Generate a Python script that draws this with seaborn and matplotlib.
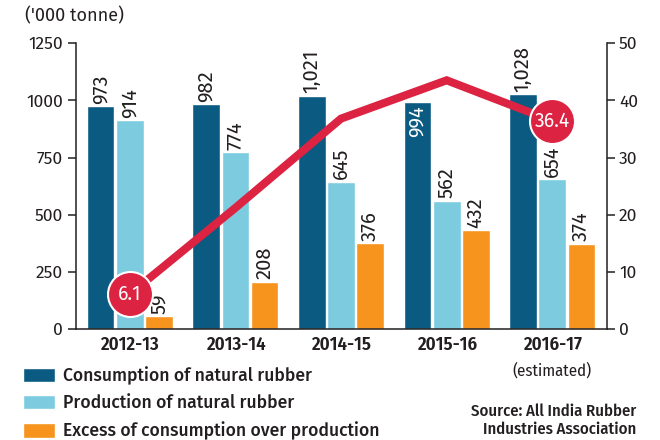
import numpy as np
import pandas as pd
import matplotlib
matplotlib.use("Agg")
import matplotlib.pyplot as plt
import seaborn as sns
from matplotlib.patches import Patch
from matplotlib.transforms import blended_transform_factory

# data
years = ["2012-13", "2013-14", "2014-15", "2015-16", "2016-17"]
consumption = [973, 982, 1021, 994, 1028]
production = [914, 774, 645, 562, 654]
excess = [59, 208, 376, 432, 374]
excess_pct = [6.1, 21.2, 36.8, 43.5, 36.4]
series = ["Consumption of natural rubber",
          "Production of natural rubber",
          "Excess of consumption over production"]

colors = ["#0b5a82", "#7ccbdf", "#f7941d"]
red = "#dc2342"
ink = "#231f20"
cond = ["Fira Sans Condensed", "DejaVu Sans"]

df = pd.DataFrame({
    "year": years * 3,
    "series": np.repeat(series, len(years)),
    "value": consumption + production + excess,
})

sns.set_style("white")
plt.rcParams["font.family"] = ["Fira Sans", "DejaVu Sans"]
plt.rcParams["text.color"] = ink

fig = plt.figure(figsize=(6.6, 4.4), dpi=100)
ax = fig.add_axes([0.115, 0.252, 0.805, 0.65])

sns.barplot(data=df, x="year", y="value", hue="series", palette=colors,
            width=0.83, gap=0.05, saturation=1, legend=False, ax=ax)

ax.set_xlim(-0.51, 4.52)
ax.set_ylim(0, 1250)
ax.set_yticks([0, 250, 500, 750, 1000, 1250])
ax.set_xlabel("")
ax.set_ylabel("")
ax.tick_params(axis="y", direction="out", length=5.5, width=1.1, labelsize=12.5,
               pad=4, left=True, colors=ink)
ax.tick_params(axis="x", length=0, pad=5, colors=ink)
for lab in ax.get_xticklabels():
    lab.set_fontfamily(cond)
    lab.set_fontweight("semibold")
    lab.set_fontsize(13.5)
for s in ["top", "right"]:
    ax.spines[s].set_visible(False)
for s in ["left", "bottom"]:
    ax.spines[s].set_color(ink)
    ax.spines[s].set_linewidth(1.1)

# value labels on bars (994 sits inside its bar, under the line)
inside = {(0, 3)}
for i, cont in enumerate(ax.containers):
    for j, bar in enumerate(cont):
        v = bar.get_height()
        x = bar.get_x() + bar.get_width() / 2
        txt = f"{int(v):,}"
        if (i, j) in inside:
            ax.annotate(txt, (x, v), xytext=(0, -3), textcoords="offset points",
                        rotation=90, ha="center", va="top", fontsize=14.5, color="white")
        else:
            ax.annotate(txt, (x, v), xytext=(0, 1.5), textcoords="offset points",
                        rotation=90, ha="center", va="bottom", fontsize=14.5)

# percentage line on right axis
ax2 = ax.twinx()
ax2.plot(range(len(years)), excess_pct, color=red, lw=5.8, solid_joinstyle="miter", zorder=3)
ax2.set_ylim(0, 50)
ax2.set_yticks([0, 10, 20, 30, 40, 50])
ax2.tick_params(axis="y", direction="out", length=5.5, width=1.1, labelsize=12.5,
                pad=3, right=True, colors=ink)
for s in ["top", "left", "bottom"]:
    ax2.spines[s].set_visible(False)
ax2.spines["right"].set_color(ink)
ax2.spines["right"].set_linewidth(1.1)
for k in [0, len(years) - 1]:
    ax2.scatter([k], [excess_pct[k]], s=1050, color=red, edgecolor="white",
                linewidth=1.5, zorder=4)
    ax2.text(k, excess_pct[k], f"{excess_pct[k]}", ha="center", va="center",
             color="white", fontsize=14, zorder=5)

trans = blended_transform_factory(ax.transData, ax.transAxes)
ax.text(4, -0.118, "(estimated)", transform=trans, ha="center", va="top",
        fontsize=12, family=cond)

fig.text(0.038, 0.985, "('000 tonne)", ha="left", va="top", fontsize=13)

handles = [Patch(facecolor=c) for c in colors]
fig.legend(handles, series, loc="upper left", bbox_to_anchor=(0.035, 0.168),
           frameon=False, handlelength=1.8, handleheight=0.87,
           handletextpad=0.45, labelspacing=0.55, borderpad=0, borderaxespad=0,
           prop={"size": 12.7, "weight": "medium"})

fig.text(0.964, 0.006, "Source: All India Rubber\nIndustries Association",
         ha="right", va="bottom", fontsize=12, fontweight="medium", family=cond,
         multialignment="right", linespacing=1.15)

fig.savefig("out.png", dpi=100)
